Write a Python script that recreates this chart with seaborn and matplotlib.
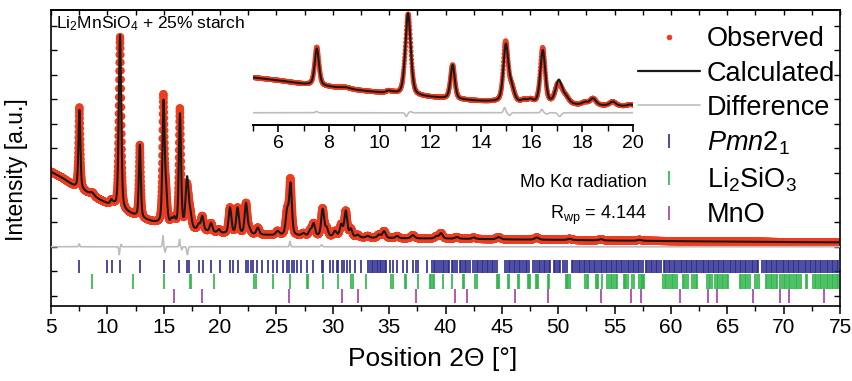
import numpy as np
import matplotlib
matplotlib.use("Agg")
import matplotlib.pyplot as plt
import seaborn as sns
from matplotlib.lines import Line2D
from matplotlib.ticker import MultipleLocator, NullFormatter

# ---------------------------------------------------------------------------
# Rietveld refinement of Li2MnSiO4 (+25 % starch), Mo K-alpha radiation
# ---------------------------------------------------------------------------

# background of the refined pattern (2theta, intensity in a.u.)
bg_two_theta = [5.0, 6.0, 7.0, 8.0, 9.0, 10.0, 11.0, 12.0, 13.0, 14.0, 15.0,
                16.0, 17.0, 18.0, 19.0, 20.0, 22.0, 24.0, 26.0, 28.0, 30.0,
                33.0, 36.0, 40.0, 45.0, 50.0, 55.0, 60.0, 65.0, 70.0, 75.0]
bg_intensity = [5.05, 4.80, 4.48, 4.25, 3.98, 3.74, 3.52, 3.34, 3.15, 3.00,
                2.88, 2.78, 2.72, 2.65, 2.60, 2.54, 2.50, 2.47, 2.45, 2.42,
                2.39, 2.36, 2.34, 2.33, 2.30, 2.28, 2.25, 2.23, 2.21, 2.19,
                2.18]

# calculated reflections: position (deg), height (a.u.), FWHM (deg)
peak_pos = [7.52, 8.65, 10.35, 10.55, 11.12, 12.88, 14.98, 15.20, 15.70,
            15.95, 16.44, 17.07, 17.35, 18.10, 18.42, 19.20, 19.90, 20.88,
            21.55, 22.30, 22.60, 23.35, 25.10, 25.95, 26.25, 27.40, 28.00,
            28.30, 29.10, 29.45, 30.20, 30.75, 31.15, 31.60, 32.20, 33.10,
            34.10, 34.55, 35.70, 37.10, 39.20, 39.60, 41.00, 42.50, 44.70,
            48.10, 51.00, 53.80, 57.20]
peak_height = [3.20, 0.12, 0.18, 0.08, 7.10, 2.95, 4.85, 1.20, 0.22,
               0.28, 4.60, 2.00, 0.55, 0.22, 0.58, 0.35, 0.14, 1.05,
               1.05, 1.25, 0.18, 0.28, 0.16, 0.95, 2.05, 0.10, 0.22,
               0.50, 1.10, 0.32, 0.22, 0.48, 1.05, 0.32, 0.10, 0.07,
               0.13, 0.28, 0.09, 0.13, 0.09, 0.22, 0.07, 0.06, 0.09,
               0.09, 0.05, 0.05, 0.04]
peak_fwhm = [0.20, 0.45, 0.22, 0.22, 0.25, 0.20, 0.23, 0.26, 0.24,
             0.24, 0.23, 0.30, 0.30, 0.26, 0.28, 0.28, 0.28, 0.28,
             0.28, 0.28, 0.28, 0.30, 0.34, 0.30, 0.28, 0.34, 0.30,
             0.30, 0.30, 0.30, 0.34, 0.30, 0.30, 0.30, 0.34, 0.34,
             0.34, 0.34, 0.34, 0.38, 0.34, 0.34, 0.38, 0.38, 0.42,
             0.42, 0.42, 0.42, 0.50]

# misfit between measured and calculated profile: position, size, width
misfit_pos = [7.50, 11.05, 11.22, 14.93, 15.12, 16.40, 16.60, 17.10, 26.20, 29.00]
misfit_size = [0.12, -0.32, 0.10, 0.45, -0.22, 0.30, -0.12, -0.32, 0.22, 0.08]
misfit_width = [0.10, 0.10, 0.10, 0.10, 0.12, 0.10, 0.10, 0.15, 0.12, 0.15]

diff_offset = 2.0

# reflection markers of the three phases (2theta, deg)
pmn21_pos = [7.51, 9.94, 10.38, 11.12, 12.90, 15.03, 16.39, 17.04, 17.25, 18.16,
             18.46, 19.17, 20.00, 20.88, 21.12, 21.56, 22.30, 22.51, 22.72,
             22.95, 23.31, 23.75, 24.28, 24.73, 25.08, 25.61, 25.97, 26.15,
             26.36, 26.56, 26.80, 27.18, 27.69, 28.28, 29.02, 29.17, 29.76,
             30.00, 30.35, 30.50, 30.79, 31.00, 31.23, 31.53, 31.97, 32.48,
             33.16, 33.30, 33.45, 33.60, 33.75, 33.90, 34.00, 34.15, 34.30,
             34.45, 34.60, 34.75, 35.08, 35.37, 35.67, 36.26, 36.56, 37.15,
             37.39, 37.60, 38.33, 38.80, 38.95, 39.10, 39.25, 39.40, 39.60,
             39.75, 39.90, 40.05, 40.20, 40.35, 40.55, 40.70, 40.85, 41.00,
             41.25, 41.40, 41.55, 41.70, 41.85, 42.00, 42.15, 42.45, 42.60,
             42.75, 42.90, 43.05, 43.20, 43.35, 43.50, 43.65, 43.80, 43.95,
             44.10, 44.25, 44.40, 44.60, 45.30, 45.45, 45.60, 45.75, 45.90,
             46.05, 46.20, 46.35, 46.50, 46.65, 46.80, 46.95, 47.10, 47.25,
             47.40, 47.80, 47.95, 48.10, 48.25, 48.40, 48.55, 48.70, 48.85,
             49.00, 49.15, 49.30, 49.60, 49.75, 49.90, 50.05, 50.20, 50.45,
             50.60, 50.75, 51.20, 51.35, 51.50, 51.65, 51.80, 51.95, 52.10,
             52.25, 52.40, 52.55, 52.70, 52.85, 53.00, 53.15, 53.30, 53.45,
             53.60, 53.75, 53.90, 54.05, 54.20, 54.35, 54.50, 54.65, 54.80,
             54.95, 55.10, 55.25, 55.40, 55.55, 55.70, 55.85, 56.00, 56.15,
             56.30, 56.45, 56.60, 56.75, 56.90, 57.05, 57.20, 57.35, 57.50,
             57.75, 57.90, 58.05, 58.20, 58.35, 58.50, 58.65, 58.80, 58.95,
             59.10, 59.35, 59.50, 59.65, 59.80, 59.95, 60.10, 60.25, 60.40,
             60.55, 60.70, 60.85, 61.00, 61.15, 61.30, 61.45, 61.60, 61.75,
             61.90, 62.05, 62.20, 62.35, 62.50, 62.65, 62.80, 62.95, 63.10,
             63.25, 63.40, 63.55, 63.70, 63.85, 64.00, 64.15, 64.30, 64.45,
             64.60, 64.75, 64.90, 65.05, 65.20, 65.35, 65.50, 65.65, 65.80,
             65.95, 66.10, 66.25, 66.40, 66.55, 66.70, 66.85, 67.00, 67.15,
             67.30, 67.45, 67.60, 67.75, 68.10, 68.25, 68.40, 68.55, 68.70,
             68.85, 69.00, 69.15, 69.30, 69.45, 69.60, 69.75, 69.90, 70.05,
             70.20, 70.35, 70.50, 70.65, 70.80, 70.95, 71.10, 71.25, 71.40,
             71.55, 71.70, 71.85, 72.00, 72.15, 72.30, 72.45, 72.60, 72.75,
             72.90, 73.05, 73.20, 73.35, 73.50, 73.65, 73.80, 73.95, 74.10,
             74.25, 74.40, 74.55, 74.70, 74.85]
li2sio3_pos = [8.60, 12.30, 15.05, 17.35, 17.45, 19.50, 23.05, 23.15, 24.70,
               26.20, 27.70, 27.80, 29.10, 30.45, 31.65, 31.75, 32.95, 35.20,
               35.30, 36.40, 36.50, 37.60, 38.60, 38.70, 38.85, 39.00, 39.80,
               40.60, 41.55, 41.65, 42.65, 42.75, 44.55, 44.65, 44.75, 45.50,
               45.60, 46.40, 46.50, 47.30, 47.40, 47.50, 48.00, 48.10, 48.20,
               49.05, 49.15, 50.70, 50.80, 50.90, 51.00, 52.35, 52.55, 52.65,
               53.35, 53.45, 53.55, 53.90, 54.35, 54.50, 54.65, 54.80, 54.95,
               55.10, 55.25, 55.85, 55.95, 56.05, 56.15, 56.55, 56.70, 57.20,
               57.30, 57.40, 57.50, 57.60, 59.30, 59.45, 59.60, 59.75, 59.90,
               60.05, 60.20, 60.35, 60.50, 61.10, 61.20, 61.35, 61.50, 61.90,
               62.05, 62.20, 62.35, 63.20, 63.35, 63.50, 63.65, 63.90, 64.05,
               64.20, 64.35, 64.50, 64.65, 64.80, 64.95, 65.10, 66.10, 66.25,
               66.40, 66.55, 66.70, 66.85, 67.00, 67.50, 67.65, 67.80, 68.40,
               68.55, 68.70, 68.85, 69.00, 69.15, 69.30, 69.45, 69.70, 69.85,
               70.00, 70.15, 70.30, 70.45, 70.60, 70.75, 70.90, 71.05, 71.20,
               71.35, 71.50, 71.95, 72.05, 72.60, 72.75, 72.90, 73.05, 73.20,
               73.35, 73.50, 73.65, 73.80, 73.95, 74.10, 74.25, 74.40, 74.55,
               74.70, 74.85]
mno_pos = [15.93, 18.43, 26.15, 30.80, 32.20, 37.35, 40.85, 41.90, 46.15,
           49.05, 53.80, 56.45, 57.35, 60.80, 63.30, 64.05, 67.30, 69.65,
           70.45, 73.60]

# colours
c_obs = "#f03c1e"
c_calc = "#1a1a1a"
c_diff = "#bdbdbd"
c_pmn = "#2c2b8e"
c_lso = "#2db449"
c_mno = "#a33ca6"


def pseudo_voigt(x, pos, height, fwhm, eta=0.4):
    u = (x - pos) / fwhm
    return height * (eta / (1.0 + 4.0 * u ** 2)
                     + (1.0 - eta) * np.exp(-4.0 * np.log(2.0) * u ** 2))


two_theta = np.arange(5.0, 75.0 + 1e-9, 0.01)
calc = np.interp(two_theta, bg_two_theta, bg_intensity)
for p, h, w in zip(peak_pos, peak_height, peak_fwhm):
    calc = calc + pseudo_voigt(two_theta, p, h, w)
obs = calc.copy()
for p, h, w in zip(misfit_pos, misfit_size, misfit_width):
    obs = obs + pseudo_voigt(two_theta, p, h, w, eta=0.0)
diff = obs - calc + diff_offset

# ---------------------------------------------------------------------------
sns.set_theme(style="ticks")
plt.rcParams["font.family"] = ["Liberation Sans", "DejaVu Sans"]
plt.rcParams["mathtext.fontset"] = "custom"
plt.rcParams["mathtext.rm"] = "Liberation Sans"
plt.rcParams["mathtext.it"] = "Liberation Sans:italic"
plt.rcParams["mathtext.bf"] = "Liberation Sans:bold"
for key in ["text.color", "axes.labelcolor", "xtick.color", "ytick.color",
            "axes.edgecolor"]:
    plt.rcParams[key] = "black"

fig = plt.figure(figsize=(8.53, 3.81), dpi=100)
ax = fig.add_axes([0.0598, 0.1969, 0.925, 0.778])


def draw_pattern(a, xmax, ms):
    sel = two_theta <= xmax + 1e-9
    sns.scatterplot(x=two_theta[sel], y=obs[sel], ax=a, color=c_obs, s=ms,
                    edgecolor="none", linewidth=0, zorder=2, legend=False)
    sns.lineplot(x=two_theta[sel], y=calc[sel], ax=a, color=c_calc, lw=1.5,
                 estimator=None, zorder=3, legend=False)
    sns.lineplot(x=two_theta[sel], y=diff[sel], ax=a, color=c_diff, lw=1.2,
                 estimator=None, zorder=3, legend=False)


draw_pattern(ax, 75.0, 34)

ax.vlines(pmn21_pos, 0.93, 1.46, color=c_pmn, lw=1.2, zorder=2)
ax.vlines(li2sio3_pos, 0.30, 0.88, color=c_lso, lw=1.2, zorder=2)
ax.vlines(mno_pos, -0.28, 0.27, color=c_mno, lw=1.2, zorder=2)

ax.set_xlim(5, 75)
ax.set_ylim(-0.41, 11.65)
ax.xaxis.set_major_locator(MultipleLocator(5))
ax.xaxis.set_minor_locator(MultipleLocator(2.5))
ax.yaxis.set_major_locator(MultipleLocator(1))
ax.yaxis.set_major_formatter(NullFormatter())
ax.tick_params(axis="x", which="major", direction="out", length=6, width=1.1,
               labelsize=15, pad=3, top=False)
ax.tick_params(axis="x", which="minor", direction="out", length=3.5, width=1.0,
               top=False)
ax.tick_params(axis="y", which="major", direction="in", length=4, width=1.0,
               left=True, right=True)
for s in ax.spines.values():
    s.set_linewidth(1.2)

# inward ticks along the top frame
top = ax.secondary_xaxis("top")
top.xaxis.set_major_locator(MultipleLocator(2.5))
top.tick_params(axis="x", which="major", direction="in", length=3.5, width=1.0,
                labeltop=False)
top.spines["top"].set_linewidth(1.2)

ax.set_xlabel("Position 2Θ [°]", fontsize=19)
ax.xaxis.set_label_coords(0.484, -0.14)
ax.set_ylabel("Intensity [a.u.]", fontsize=16.5)
ax.yaxis.set_label_coords(-0.029, 0.46)

ax.text(0.006, 0.952, r"Li$_2$MnSiO$_4$ + 25% starch", transform=ax.transAxes,
        fontsize=12.5, ha="left", va="center")
ax.text(0.755, 0.415, "Mo Kα radiation", transform=ax.transAxes,
        fontsize=13, ha="right", va="center")
ax.text(0.755, 0.305, r"R$_{\mathrm{wp}}$ = 4.144", transform=ax.transAxes,
        fontsize=13, ha="right", va="center")

handles = [
    Line2D([], [], ls="none", marker="o", ms=4, color=c_obs, mec="none"),
    Line2D([], [], color=c_calc, lw=1.6),
    Line2D([], [], color=c_diff, lw=1.2),
    Line2D([], [], ls="none", marker="|", ms=10, mew=1.2, color=c_pmn),
    Line2D([], [], ls="none", marker="|", ms=10, mew=1.2, color=c_lso),
    Line2D([], [], ls="none", marker="|", ms=10, mew=1.2, color=c_mno),
]
labels = ["Observed", "Calculated", "Difference", r"$\mathit{Pmn2}_{\mathit{1}}$",
          r"Li$_2$SiO$_3$", "MnO"]
ax.legend(handles, labels, loc="upper left", bbox_to_anchor=(0.744, 0.944),
          frameon=False, fontsize=19.5, handlelength=2.29, handletextpad=0.26,
          labelspacing=0.31, borderaxespad=0, borderpad=0)

# zoomed view of the low-angle region
ins = fig.add_axes([0.2966, 0.6719, 0.4455, 0.3018])
ins.patch.set_alpha(0)
draw_pattern(ins, 20.0, 13)
ins.set_xlim(5, 20)
ins.set_ylim(0.94, 10.89)
for side in ["left", "right", "top"]:
    ins.spines[side].set_visible(False)
ins.spines["bottom"].set_linewidth(1.4)
ins.set_yticks([])
ins.xaxis.set_major_locator(MultipleLocator(2))
ins.xaxis.set_minor_locator(MultipleLocator(1))
ins.tick_params(axis="x", which="major", direction="out", length=5, width=1.2,
                labelsize=14, pad=2)
ins.tick_params(axis="x", which="minor", direction="out", length=4, width=1.0)
ins.set_xlabel("")
ins.set_ylabel("")

fig.savefig("out.png", dpi=100)
